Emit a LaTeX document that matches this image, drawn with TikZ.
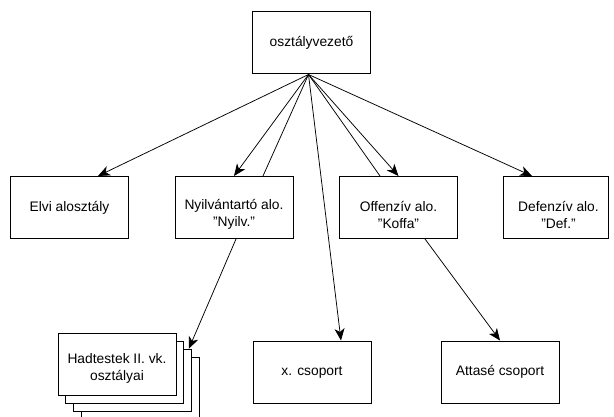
\documentclass[tikz,border=0pt]{standalone}
\usepackage{fontspec}
\setmainfont{Liberation Sans}
\usetikzlibrary{arrows.meta}
\newcommand{\qt}{\symbol{34}}
\begin{document}
\begin{tikzpicture}[x=1pt,y=-1pt,
  unit/.style={draw=black, line width=1pt, fill=white, minimum width=118pt, minimum height=62pt, inner sep=0pt},
  lbl/.style={font=\fontsize{13.8}{17}\selectfont, align=center, inner sep=0pt},
  link/.style={line width=0.75pt},
  arr/.style={link, -{Stealth[length=12pt,width=10pt,inset=3.5pt]}}]
\clip (0,0) rectangle (614,417);
\fill[white] (0,0) rectangle (614,417);

% head of department
\node[unit] (head) at (311.5,43) {};
\node[lbl] (headt) at (head.center) {osztályvezető};

% subsections
\node[unit] (elvi) at (69.5,207.5) {};
\node[lbl] (elvit) at (elvi.center) {Elvi alosztály};
\node[unit] (nyilv) at (234,207.5) {};
\node[lbl] (nyilvt) at ([yshift=-7]nyilv.center) {Nyilvántartó alo.\\\qt Nyilv.\qt};
\node[unit] (off) at (398.5,207.5) {};
\node[lbl] (offt) at ([yshift=-7]off.center) {Offenzív alo.\\\qt Koffa\qt};
\node[unit, minimum width=105pt] (def) at (555.5,207.5) {};
\node[lbl] (deft) at ([xshift=3,yshift=-7]def.center) {Defenzív alo.\\\qt Def.\qt};

% stacked corps departments, back to front
\node[unit] (s4) at (140,388) {};
\node[unit] (s3) at (132.3,380.3) {};
\node[unit] (s2) at (124.6,372.6) {};
\node[unit] (s1) at (117,364.5) {};
\node[lbl] (s1t) at ([yshift=-4]s1.center) {Hadtestek II. vk.\\osztályai};

% groups
\node[unit] (xcs) at (312,372) {};
\node[lbl] (xcst) at (xcs.center) {x. csoport};
\node[unit] (att) at (500,372) {};
\node[lbl] (attt) at (att.center) {Attasé csoport};

\coordinate (hub) at ([xshift=-3]head.south);

% connectors
\draw[arr] (hub) -- ([xshift=28.5]elvi.north);
\draw[arr] (hub) -- (nyilv.north);
\draw[link] (hub) -- ([xshift=29]nyilv.north);
\draw[arr] (hub) -- ([xshift=29]xcs.north);
\draw[link] (hub) -- ([xshift=-18.5]off.north);
\draw[arr] (hub) -- (off.north);
\draw[arr] (hub) -- ([xshift=-23.5]def.north);
\draw[arr] ([xshift=2]nyilv.south) -- ([xshift=-3]s3.north east);
\draw[arr] ([xshift=26.5]off.south) -- (att.north);
\end{tikzpicture}
\end{document}
